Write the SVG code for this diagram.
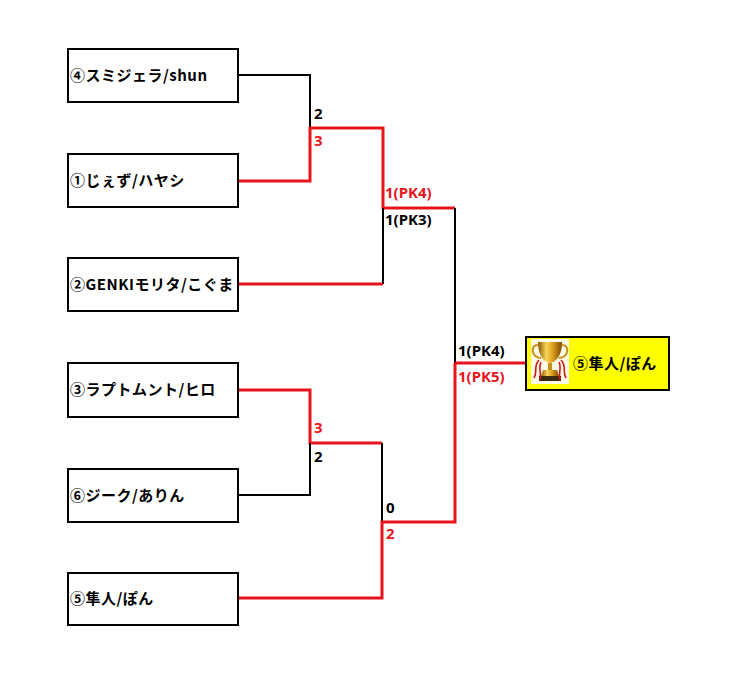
<svg xmlns="http://www.w3.org/2000/svg" width="730" height="678" viewBox="0 0 730 678">
<defs>
<style>
.box{fill:#fff;stroke:#000;stroke-width:2}
.lbl{font-family:"Noto Sans CJK JP","Noto Sans",sans-serif;font-weight:bold;font-size:15px;letter-spacing:0.5px;fill:#000}
.sc{font-family:"Noto Sans","Liberation Sans",sans-serif;font-weight:bold;font-size:15px}
.k{fill:#000}
.r{fill:#e8141c}
.lk{fill:none;stroke:#000;stroke-width:2}
.lr{fill:none;stroke:#e8141c;stroke-width:3}
</style>
<linearGradient id="gold" x1="0" y1="0" x2="1" y2="0">
<stop offset="0" stop-color="#8a5a06"/>
<stop offset="0.35" stop-color="#f5d45a"/>
<stop offset="0.6" stop-color="#e0a21e"/>
<stop offset="1" stop-color="#7a4a04"/>
</linearGradient>
</defs>
<rect width="730" height="678" fill="#fff"/>
<g id="connectors">
<polyline class="lk" points="238,75 310,75 310,128"/>
<polyline class="lr" points="238,181 310,181 310,128 383,128 383,208 455,208"/>
<polyline class="lk" points="383,208 383,284"/>
<polyline class="lr" points="238,284 383,284"/>
<polyline class="lk" points="455,208 455,363"/>
<polyline class="lr" points="455,363 526,363"/>
<polyline class="lr" points="238,390 310,390 310,443 382,443"/>
<polyline class="lk" points="238,495 310,495 310,443"/>
<polyline class="lk" points="382,443 382,522"/>
<polyline class="lr" points="238,598 382,598 382,522 455,522 455,363"/>
</g>
<g id="scores">
<text class="sc k" x="314" y="119">2</text>
<text class="sc r" x="314" y="146">3</text>
<text class="sc r" x="385" y="198">1(PK4)</text>
<text class="sc k" x="385" y="225">1(PK3)</text>
<text class="sc r" x="314" y="433">3</text>
<text class="sc k" x="314" y="462">2</text>
<text class="sc k" x="386" y="513">0</text>
<text class="sc r" x="386" y="539">2</text>
<text class="sc k" x="458" y="356">1(PK4)</text>
<text class="sc r" x="458" y="382">1(PK5)</text>
</g>
<g id="n4"><rect class="box" x="68" y="49" width="170" height="53"/><text class="lbl" x="70" y="81">④スミジェラ/shun</text></g>
<g id="n1"><rect class="box" x="68" y="154" width="170" height="53"/><text class="lbl" x="70" y="186">①じぇず/ハヤシ</text></g>
<g id="n2"><rect class="box" x="68" y="258" width="170" height="53"/><text class="lbl" x="70" y="290">②GENKIモリタ/こぐま</text></g>
<g id="n3"><rect class="box" x="68" y="363" width="170" height="54"/><text class="lbl" x="70" y="395">③ラプトムント/ヒロ</text></g>
<g id="n6"><rect class="box" x="68" y="469" width="170" height="53"/><text class="lbl" x="70" y="501">⑥ジーク/ありん</text></g>
<g id="n5"><rect class="box" x="68" y="573" width="170" height="52"/><text class="lbl" x="70" y="604">⑤隼人/ぽん</text></g>
<g id="winner">
<rect x="526" y="337" width="143" height="53" fill="#ffff00" stroke="#000" stroke-width="2"/>
<g id="trophy">
<rect x="531" y="339" width="38" height="45" fill="#fffbe6"/>
<path d="M538,345 C530,345 531,357 541,358" fill="none" stroke="#c9901a" stroke-width="2"/>
<path d="M562,345 C570,345 569,357 559,358" fill="none" stroke="#c9901a" stroke-width="2"/>
<path d="M538,342 L562,342 C562,356 556,362 550,363 C544,362 538,356 538,342 Z" fill="url(#gold)"/>
<rect x="548" y="363" width="4" height="7" fill="#c9901a"/>
<path d="M543,370 L557,370 L559,376 L541,376 Z" fill="url(#gold)"/>
<rect x="539" y="376" width="22" height="5" fill="#3a2a10"/>
<path d="M539,360 C533,366 538,372 534,378 M541,362 C538,368 542,374 540,380" fill="none" stroke="#d01818" stroke-width="1.6"/>
<path d="M561,360 C567,366 562,372 566,378 M559,362 C562,368 558,374 560,380" fill="none" stroke="#d01818" stroke-width="1.6"/>
</g>
<text class="lbl" x="573" y="369">⑤隼人/ぽん</text>
</g>
</svg>
